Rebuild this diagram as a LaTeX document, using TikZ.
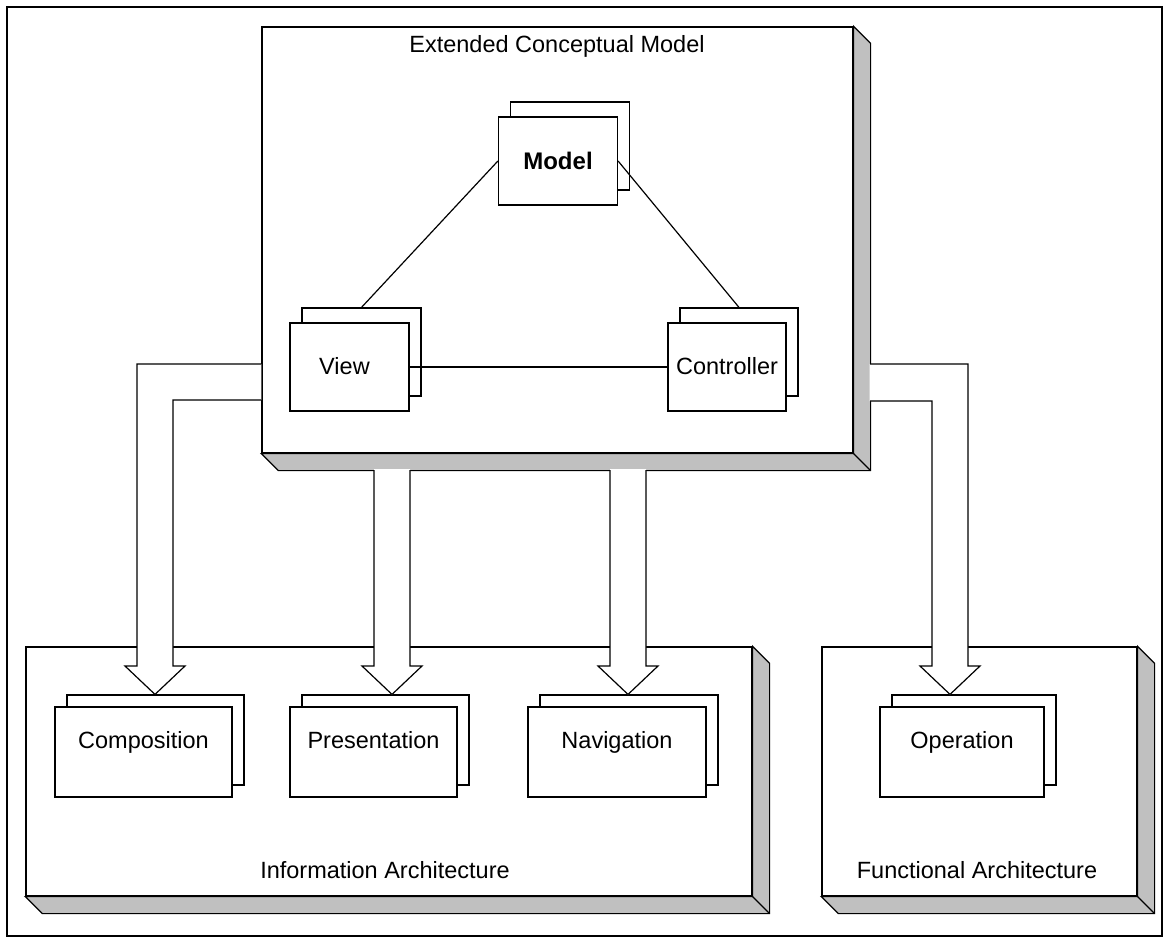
\documentclass[tikz,border=0pt]{standalone}
\usepackage{fontspec}
\setmainfont{Liberation Sans}
\usetikzlibrary{calc}
\definecolor{shade}{RGB}{192,192,192}
\tikzset{
  x=1pt, y=-1pt,
  every path/.style={line width=1.2pt},
  panel/.style={draw, fill=white, rectangle, inner sep=0pt, line width=1.2pt},
  card/.style={panel, minimum height=88pt},
  tile/.style={panel, minimum height=90pt},
  caption/.style={inner sep=0pt, anchor=base, font=\fontsize{23.5}{26}\selectfont},
  depth/.style={fill=shade, draw=black, line width=1.2pt, line join=miter},
  fatarrow/.style={fill=white, draw=none},
}
% grey bevel on the right and bottom side of a panel
\newcommand{\dropshade}[1]{%
  \filldraw[depth] (#1.north east) -- ++(17,17) -- ($(#1.south east)+(17,17)$)
     -- ($(#1.south west)+(17,17)$) -- (#1.south west) -- (#1.south east) -- cycle;
  \draw (#1.south east) -- ++(17,17);
}
\begin{document}
\begin{tikzpicture}
\useasboundingbox (0,0) rectangle (1170,938);
\draw[line width=2.2pt] (7,7) rectangle (1162,936);

% ---------- lower panels ----------
\node[panel, minimum width=726pt, minimum height=249pt] (info) at (389,771.5) {};
\dropshade{info}
\node[panel, minimum width=315pt, minimum height=249pt] (func) at (979.5,771.5) {};
\dropshade{func}
\node[caption] (infoL) at (385,878) {Information Architecture};
\node[caption] (funcL) at (977,878) {Functional Architecture};

\node[tile, minimum width=177pt] (compB) at (155.5,740) {};
\node[tile, minimum width=177pt] (comp)  at (143.5,752) {};
\node[caption] at ($(comp)+(0,-4)$) {Composition};
\node[tile, minimum width=167pt] (presB) at (385.5,740) {};
\node[tile, minimum width=167pt] (pres)  at (373.5,752) {};
\node[caption] at ($(pres)+(0,-4)$) {Presentation};
\node[tile, minimum width=178pt] (navB) at (629,740) {};
\node[tile, minimum width=178pt] (nav)  at (617,752) {};
\node[caption] at ($(nav)+(0,-4)$) {Navigation};
\node[tile, minimum width=164pt] (opB) at (974,740) {};
\node[tile, minimum width=164pt] (op)  at (962,752) {};
\node[caption] at ($(op)+(0,-4)$) {Operation};

% ---------- upper panel ----------
\node[panel, minimum width=591pt, minimum height=426pt] (ecm) at (557.5,240) {};
\dropshade{ecm}
\node[caption] (ecmL) at (557,52) {Extended Conceptual Model};

\node[card, minimum width=119pt] (modelB) at (570,146) {};
\node[card, minimum width=119pt] (model)  at (558,161) {};
\node[caption, font=\fontsize{24}{26}\selectfont\bfseries] at ($(model)+(0,8)$) {Model};
\node[card, minimum width=119pt] (viewB) at (361.5,352) {};
\node[card, minimum width=119pt] (view)  at (349.5,367) {};
\node[caption] at ($(view)+(-5,7)$) {View};
\node[card, minimum width=118pt] (ctrlB) at (739,352) {};
\node[card, minimum width=118pt] (ctrl)  at (727,367) {};
\node[caption] at ($(ctrl)+(0,7)$) {Controller};

\draw (model.west) -- (viewB.north);
\draw (model.east) -- (ctrlB.north);
\draw (view.east) -- (ctrl.west);

% ---------- wide arrows ----------
% to Composition
\fill[fatarrow] (261.3,364) -- (137,364) -- (137,666) -- (125,666) -- (compB.north)
  -- (185,666) -- (173,666) -- (173,400) -- (261.3,400) -- cycle;
\draw (ecm.west |- 0,364) -- (137,364) -- (137,666) -- (125,666) -- (compB.north -| 155,0)
  -- (185,666) -- (173,666) -- (173,400) -- (ecm.west |- 0,400);
% to Presentation
\fill[fatarrow] (374,469) -- (374,666) -- (362,666) -- (392,695) -- (422,666) -- (410,666) -- (410,469) -- cycle;
\draw (374,470) -- (374,666) -- (362,666) -- (presB.north -| 392,0) -- (422,666) -- (410,666) -- (410,470);
% to Navigation
\fill[fatarrow] (610,469) -- (610,666) -- (598,666) -- (628,695) -- (658,666) -- (646,666) -- (646,469) -- cycle;
\draw (610,470) -- (610,666) -- (598,666) -- (navB.north -| 628,0) -- (658,666) -- (646,666) -- (646,470);
% to Operation
\fill[fatarrow] (869.5,364) -- (968,364) -- (968,666) -- (980,666) -- (950,695)
  -- (920,666) -- (932,666) -- (932,401) -- (869.5,401) -- cycle;
\draw (870,364) -- (968,364) -- (968,666) -- (980,666) -- (opB.north -| 950,0)
  -- (920,666) -- (932,666) -- (932,401) -- (870,401);
\end{tikzpicture}
\end{document}
